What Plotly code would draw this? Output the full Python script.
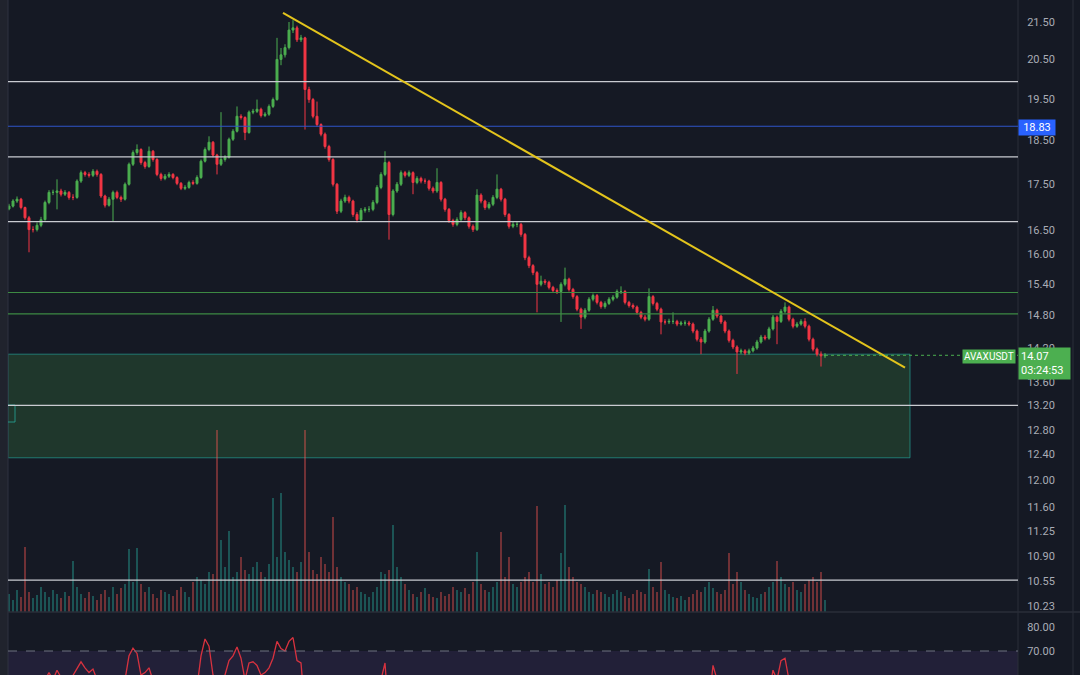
import math
import plotly.graph_objects as go

# ---------------- data ----------------
close = [
    17.01, 17.12, 17.16, 16.98, 16.76, 16.51, 16.51, 16.60, 16.72, 17.09,
    17.31, 17.31, 17.34, 17.27, 17.31, 17.20, 17.20, 17.56, 17.75, 17.71,
    17.69, 17.78, 17.71, 17.23, 17.03, 17.16, 17.31, 17.20, 17.16, 17.49,
    17.94, 18.21, 18.28, 17.98, 17.89, 18.24, 18.05, 17.71, 17.62, 17.67,
    17.71, 17.64, 17.51, 17.40, 17.42, 17.53, 17.51, 17.64, 18.01, 18.28,
    18.45, 18.15, 17.94, 18.05, 18.10, 18.52, 18.71, 19.07, 19.04, 18.68,
    19.17, 19.19, 19.24, 19.09, 19.12, 19.31, 19.48, 20.50, 20.62, 20.81,
    21.28, 21.34, 21.02, 21.07, 19.73, 19.48, 19.07, 18.87, 18.64, 18.35,
    18.05, 17.49, 16.90, 17.12, 17.20, 17.12, 16.83, 16.72, 16.92, 16.94,
    16.94, 17.09, 17.42, 17.71, 17.98, 16.83, 17.34, 17.49, 17.75, 17.69,
    17.75, 17.53, 17.62, 17.56, 17.56, 17.40, 17.34, 17.53, 17.16, 16.94,
    16.70, 16.62, 16.72, 16.87, 16.76, 16.58, 16.51, 17.25, 17.12, 16.98,
    17.05, 17.20, 17.38, 17.16, 16.83, 16.58, 16.62, 16.62, 16.41, 15.93,
    15.77, 15.63, 15.40, 15.46, 15.44, 15.34, 15.28, 15.26, 15.40, 15.50,
    15.30, 15.16, 14.92, 14.77, 14.90, 15.11, 15.18, 15.05, 14.97, 15.03,
    15.11, 15.15, 15.26, 15.26, 15.05, 14.99, 14.96, 14.86, 14.77, 14.73,
    15.16, 15.03, 14.92, 14.68, 14.68, 14.69, 14.69, 14.64, 14.66, 14.66,
    14.64, 14.51, 14.36, 14.31, 14.51, 14.73, 14.90, 14.79, 14.68, 14.51,
    14.34, 14.22, 14.13, 14.15, 14.11, 14.15, 14.20, 14.31, 14.40, 14.38,
    14.55, 14.77, 14.69, 14.88, 14.96, 14.73, 14.60, 14.64, 14.69, 14.60,
    14.36, 14.18, 14.09, 14.06, 14.07]

high = [
    17.06, 17.16, 17.22, 17.19, 17.00, 16.80, 16.58, 16.66, 16.78, 17.13,
    17.36, 17.37, 17.60, 17.39, 17.36, 17.34, 17.27, 17.60, 17.80, 17.79,
    17.76, 17.83, 17.82, 17.74, 17.26, 17.21, 17.35, 17.35, 17.24, 17.53,
    17.98, 18.26, 18.40, 18.31, 18.02, 18.35, 18.27, 18.08, 17.75, 17.72,
    17.76, 17.74, 17.67, 17.54, 17.47, 17.57, 17.58, 17.69, 18.05, 18.33,
    18.59, 18.48, 18.18, 19.17, 18.15, 18.56, 18.76, 19.31, 19.12, 19.07,
    19.21, 19.25, 19.48, 19.28, 19.17, 19.36, 19.53, 21.07, 20.80, 20.90,
    21.50, 21.55, 21.40, 21.15, 21.10, 19.80, 19.52, 19.43, 18.90, 18.68,
    18.39, 18.08, 17.52, 17.17, 17.26, 17.24, 17.15, 16.88, 16.97, 16.99,
    17.01, 17.14, 17.47, 17.76, 18.24, 18.02, 17.38, 17.54, 17.80, 17.79,
    17.80, 17.78, 17.67, 17.66, 17.62, 17.59, 17.44, 17.85, 17.56, 17.19,
    16.97, 16.74, 16.77, 16.92, 16.90, 16.79, 16.62, 17.38, 17.29, 17.15,
    17.10, 17.25, 17.71, 17.41, 17.19, 16.86, 16.67, 16.68, 16.65, 16.44,
    15.97, 15.80, 15.66, 15.57, 15.50, 15.47, 15.37, 15.32, 15.44, 15.73,
    15.53, 15.33, 15.19, 14.95, 14.94, 15.15, 15.22, 15.21, 15.08, 15.07,
    15.15, 15.19, 15.30, 15.36, 15.29, 15.08, 15.03, 14.99, 14.89, 14.81,
    15.32, 15.19, 15.06, 14.95, 14.73, 14.74, 14.86, 14.72, 14.70, 14.71,
    14.70, 14.67, 14.54, 14.40, 14.55, 14.77, 14.98, 14.93, 14.82, 14.71,
    14.54, 14.37, 14.25, 14.19, 14.18, 14.19, 14.24, 14.35, 14.44, 14.44,
    14.59, 14.81, 14.80, 14.92, 15.05, 14.99, 14.76, 14.68, 14.73, 14.75,
    14.63, 14.39, 14.21, 14.14, 14.11]

low = [
    16.92, 16.98, 17.08, 16.94, 16.72, 16.04, 16.45, 16.47, 16.56, 16.70,
    17.05, 17.25, 16.94, 17.22, 17.23, 17.15, 17.14, 17.17, 17.52, 17.66,
    17.64, 17.65, 17.66, 17.19, 16.98, 17.00, 16.68, 17.16, 17.10, 17.13,
    17.46, 17.90, 18.16, 17.93, 17.84, 17.86, 18.00, 17.67, 17.57, 17.58,
    17.63, 17.60, 17.47, 17.36, 17.36, 17.39, 17.47, 17.48, 17.61, 17.98,
    18.24, 18.10, 17.71, 17.90, 18.00, 18.07, 18.48, 18.68, 18.99, 18.50,
    18.65, 19.12, 19.15, 19.04, 19.05, 19.08, 19.27, 19.45, 20.35, 20.55,
    20.76, 21.20, 20.96, 20.96, 18.75, 19.40, 19.02, 18.82, 18.59, 18.30,
    18.00, 17.44, 16.84, 16.86, 17.08, 17.07, 16.78, 16.66, 16.69, 16.87,
    16.88, 16.90, 17.05, 17.38, 17.67, 16.30, 16.79, 17.30, 17.45, 17.64,
    17.65, 17.27, 17.49, 17.51, 17.50, 17.35, 17.29, 17.30, 17.11, 16.89,
    16.65, 16.57, 16.58, 16.69, 16.71, 16.53, 16.46, 16.48, 17.07, 16.93,
    16.94, 17.01, 17.16, 17.11, 16.78, 16.53, 16.54, 16.56, 16.36, 15.88,
    15.72, 15.58, 14.86, 15.36, 15.39, 15.30, 15.24, 15.21, 14.68, 15.36,
    15.26, 15.12, 14.88, 14.55, 14.73, 14.87, 15.07, 15.01, 14.93, 14.93,
    15.00, 15.07, 15.12, 15.21, 15.01, 14.95, 14.92, 14.82, 14.73, 14.69,
    14.70, 14.99, 14.88, 14.45, 14.63, 14.64, 14.64, 14.60, 14.61, 14.61,
    14.60, 14.47, 14.32, 14.09, 14.28, 14.48, 14.70, 14.75, 14.64, 14.47,
    14.30, 14.18, 13.74, 14.09, 14.07, 14.08, 14.12, 14.17, 14.28, 14.34,
    14.35, 14.52, 14.27, 14.66, 14.84, 14.69, 14.56, 14.57, 14.61, 14.56,
    14.32, 14.14, 14.05, 13.87, 14.02]

first_open = 16.95
open_ = [first_open] + close[:-1]

volume_k = [
    18, 12, 22, 15, 65, 20, 14, 17, 25, 20,
    15, 22, 18, 14, 20, 16, 51, 25, 18, 14,
    20, 16, 12, 18, 22, 15, 25, 18, 24, 28,
    63, 30, 64, 28, 20, 25, 18, 14, 22, 20,
    18, 16, 22, 25, 20, 15, 30, 35, 32, 28,
    40, 38, 182, 72, 45, 81, 35, 40, 55, 42,
    38, 45, 50, 40, 35, 48, 114, 55, 119, 60,
    52, 45, 40, 50, 182, 60, 42, 38, 55, 48,
    40, 95, 45, 35, 30, 28, 22, 25, 20, 18,
    15, 20, 25, 40, 38, 42, 87, 45, 35, 28,
    22, 18, 15, 20, 24, 18, 15, 14, 20, 16,
    18, 25, 22, 20, 24, 18, 30, 60, 28, 22,
    20, 25, 30, 80, 35, 55, 28, 25, 30, 35,
    40, 30, 106, 38, 28, 30, 25, 32, 59, 107,
    45, 35, 30, 28, 25, 20, 18, 22, 20, 18,
    15, 18, 22, 20, 16, 14, 18, 22, 20, 18,
    43, 25, 20, 50, 22, 18, 15, 14, 16, 12,
    15, 18, 22, 20, 25, 30, 24, 20, 18, 22,
    59, 28, 40, 30, 22, 18, 15, 14, 18, 20,
    25, 30, 51, 35, 28, 25, 30, 22, 20, 28,
    32, 35, 30, 40, 12]

rsi = [
    50, 52, 55, 53, 48, 40, 38, 42, 48, 58,
    61, 58, 62, 59, 56, 57, 60, 63, 65.5, 63,
    61, 62.5, 58, 45, 40, 45, 50, 48, 47, 58,
    68, 71.2, 69, 60, 61, 63, 58, 50, 47, 48,
    50, 48, 45, 42, 44, 48, 47, 55, 68, 75,
    72, 60, 55, 58, 60, 66, 68, 71.7, 67, 58,
    65, 65.5, 64, 60, 61, 63, 67, 74, 71, 70,
    74, 75.6, 66, 65, 45, 40, 35, 33, 30, 28,
    26, 22, 20, 30, 33, 32, 28, 27, 33, 34,
    34, 40, 50, 58, 65, 42, 52, 55, 58, 57,
    58, 52, 54, 53, 53, 49, 48, 53, 45, 40,
    36, 35, 38, 42, 40, 36, 35, 55, 52, 49,
    50, 53, 57, 50, 42, 36, 37, 37, 33, 26,
    24, 22, 20, 24, 24, 23, 23, 23, 30, 35,
    32, 30, 27, 25, 32, 40, 43, 40, 38, 40,
    43, 45, 49, 49, 42, 40, 39, 36, 33, 32,
    50, 46, 42, 35, 35, 36, 36, 35, 36, 36,
    35, 31, 27, 26, 36, 48, 64, 55, 49, 42,
    35, 31, 29, 30, 30, 31, 34, 40, 45, 44,
    52, 62, 58, 66, 67, 55, 49, 51, 53, 49,
    40, 34, 32, 31, 32]

price_ticks = [21.50, 20.50, 19.50, 18.50, 17.50, 16.50, 16.00, 15.40, 14.80, 14.20,
               13.60, 13.20, 12.80, 12.40, 12.00, 11.60, 11.25, 10.90, 10.55, 10.23]
rsi_ticks = [80, 70, 60]

white_levels = [19.93, 18.11, 16.68, 13.20, 10.57]
blue_level = 18.83
green_levels = [15.24, 14.83]
zone_low, zone_high = 12.35, 14.09
trend_start = (68.5, 21.75)
trend_end = (224.0, 13.85)
zone_end_idx = 225.25
last_price = 14.07
countdown = "03:24:53"
symbol = "AVAXUSDT"

# ---------------- styling ----------------
W, H = 1080, 675
BG = "#151924"
GRID = "#2a2e39"
UP = "#4caf50"
DOWN = "#f23645"
TXT = "#a9acb5"
FONT = "Roboto, Liberation Sans, sans-serif"

x_left, x_right = 8 / W, 1018 / W
pane_split = 63 / H

idx = list(range(len(close)))
vol_colors = ["rgba(38,166,154,0.42)" if c >= o else "rgba(239,83,80,0.42)"
              for o, c in zip(open_, close)]

fig = go.Figure()

fig.add_trace(go.Bar(x=idx, y=volume_k, yaxis="y", marker=dict(color=vol_colors, line=dict(width=0)),
                     width=0.42, hoverinfo="skip"))

fig.add_trace(go.Candlestick(
    x=idx, open=open_, high=high, low=low, close=close, yaxis="y2",
    increasing=dict(line=dict(color=UP, width=1), fillcolor=UP),
    decreasing=dict(line=dict(color=DOWN, width=1), fillcolor=DOWN),
    whiskerwidth=0, hoverinfo="skip"))

fig.add_trace(go.Scatter(x=idx, y=rsi, yaxis="y3", mode="lines",
                         line=dict(color="#d8323f", width=1.3), hoverinfo="skip"))

shapes = []
# left toolbar strip
shapes.append(dict(type="rect", xref="paper", yref="paper", x0=0, x1=x_left, y0=0, y1=1,
                   fillcolor="#20232d", line=dict(width=0), layer="below"))
shapes.append(dict(type="line", xref="paper", yref="paper", x0=x_left, x1=x_left, y0=0, y1=1,
                   line=dict(color="#2f3340", width=1)))
# axis separators
for xs in (x_right, 1073 / W):
    shapes.append(dict(type="line", xref="paper", yref="paper", x0=xs, x1=xs, y0=0, y1=1,
                       line=dict(color=GRID, width=1)))
shapes.append(dict(type="line", xref="paper", yref="paper", x0=x_left, x1=1, y0=pane_split, y1=pane_split,
                   line=dict(color=GRID, width=1.5)))
# RSI band and 70 line
shapes.append(dict(type="rect", xref="paper", yref="y3", x0=x_left, x1=x_right, y0=30, y1=70,
                   fillcolor="rgba(126,87,194,0.13)", line=dict(width=0), layer="below"))
shapes.append(dict(type="line", xref="paper", yref="y3", x0=x_left, x1=x_right, y0=70, y1=70,
                   line=dict(color="#6f7280", width=1, dash="dash")))
# demand zone
shapes.append(dict(type="rect", xref="x", yref="y2", x0=-0.25, x1=zone_end_idx, y0=zone_low, y1=zone_high,
                   fillcolor="rgba(76,175,80,0.20)", line=dict(color="rgba(38,166,154,0.65)", width=1),
                   layer="below"))
# small marker at left of zone
shapes.append(dict(type="path", xref="paper", yref="paper",
                   path=f"M {x_left},{1-405/H} L {15/W},{1-405/H} L {15/W},{1-422/H} L {x_left},{1-422/H}",
                   line=dict(color="rgba(38,166,154,0.8)", width=1)))
# levels
for lv in white_levels:
    shapes.append(dict(type="line", xref="paper", yref="y2", x0=x_left, x1=x_right, y0=lv, y1=lv,
                       line=dict(color="#c9cbd1", width=1.2)))
shapes.append(dict(type="line", xref="paper", yref="y2", x0=x_left, x1=x_right, y0=blue_level, y1=blue_level,
                   line=dict(color="#2f55c9", width=1.2)))
for lv in green_levels:
    shapes.append(dict(type="line", xref="paper", yref="y2", x0=x_left, x1=x_right, y0=lv, y1=lv,
                       line=dict(color="#3d8a43", width=1.2)))
# trend line
shapes.append(dict(type="line", xref="x", yref="y2", x0=trend_start[0], y0=trend_start[1],
                   x1=trend_end[0], y1=trend_end[1], line=dict(color="#e3c41c", width=2)))
# last price dotted line
shapes.append(dict(type="line", xref="x", yref="y2", x0=len(close) - 1, x1=252.25, y0=last_price, y1=last_price,
                   line=dict(color=UP, width=1, dash="dot")))

annotations = [
    dict(xref="paper", yref="paper", x=x_right, y=1 - 347 / H, xanchor="left", yanchor="top",
         text=f"{last_price:.2f}<br>{countdown}", showarrow=False, align="left",
         bgcolor=UP, borderpad=2, width=47, font=dict(family=FONT, size=11, color="#ffffff")),
    dict(xref="paper", yref="paper", x=1016 / W, y=1 - 356.5 / H, xanchor="right", yanchor="middle",
         text=symbol, showarrow=False, bgcolor=UP, borderpad=1,
         font=dict(family=FONT, size=10, color="#ffffff")),
    dict(xref="paper", yref="paper", x=x_right, y=1 - 127 / H, xanchor="left", yanchor="middle",
         text=f"{blue_level:.2f}", showarrow=False, bgcolor="#2962ff", borderpad=1, width=34,
         font=dict(family=FONT, size=11, color="#ffffff")),
]

fig.update_layout(
    width=W, height=H, margin=dict(l=0, r=0, t=0, b=0),
    paper_bgcolor=BG, plot_bgcolor=BG, showlegend=False, hovermode=False,
    bargap=0,
    xaxis=dict(domain=[x_left, x_right], range=[-0.25, 252.25], visible=False,
               rangeslider=dict(visible=False), fixedrange=True),
    yaxis=dict(domain=[pane_split, 1], range=[0, 612], visible=False, fixedrange=True),
    yaxis2=dict(overlaying="y", side="right", anchor="x", type="log",
                range=[math.log10(10.15), math.log10(22.11)],
                tickvals=price_ticks, ticktext=[f"{v:.2f}" for v in price_ticks],
                showgrid=False, zeroline=False, showline=False,
                ticks="outside", ticklen=6, tickcolor="rgba(0,0,0,0)",
                tickfont=dict(family=FONT, size=11, color=TXT)),
    yaxis3=dict(domain=[0, pane_split], range=[60, 86.25], side="right", anchor="x",
                tickvals=rsi_ticks, ticktext=[f"{v:.2f}" for v in rsi_ticks],
                showgrid=False, zeroline=False, showline=False,
                ticks="outside", ticklen=6, tickcolor="rgba(0,0,0,0)",
                tickfont=dict(family=FONT, size=11, color=TXT)),
    shapes=shapes, annotations=annotations,
)

fig.write_html("out.html")
